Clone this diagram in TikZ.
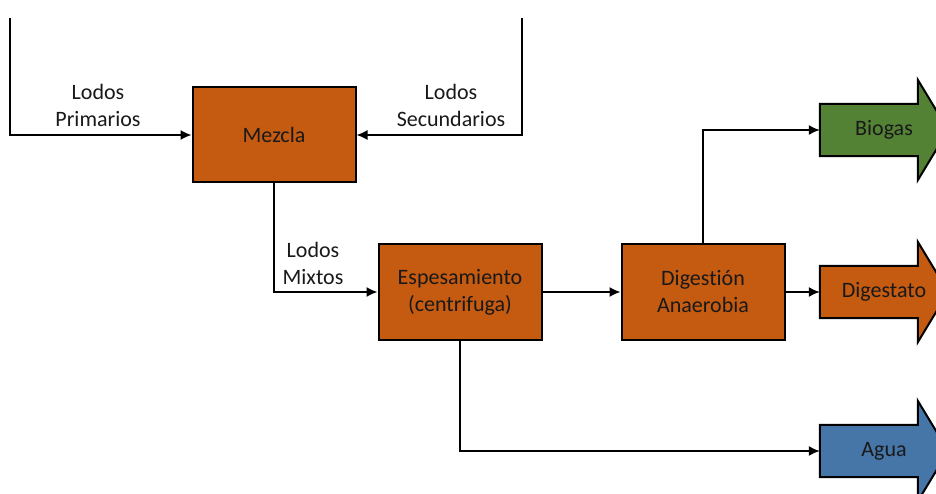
\documentclass[tikz,border=0pt]{standalone}
\usepackage{fontspec}
\setmainfont[Ligatures=NoCommon]{Carlito}
\usetikzlibrary{arrows.meta,calc,backgrounds}
\definecolor{naranja}{HTML}{C55A11}
\definecolor{verde}{HTML}{548235}
\definecolor{azul}{HTML}{4675A8}
\newcommand{\fuente}{\fontsize{22}{27}\selectfont}

\begin{document}
\begin{tikzpicture}[x=1pt, y=-1pt, >={Latex[length=11pt,width=10pt]}]
  \tikzstyle{proceso}=[rectangle, draw=black, fill=naranja, line width=2pt, minimum width=163pt, minimum height=95pt, font=\fuente, align=center, text=black!90]
  \tikzstyle{salida}=[rectangle, inner sep=0pt, minimum width=128pt, minimum height=52pt, font=\fuente, text=black!90]
  \tikzstyle{etiqueta}=[font=\fuente, align=center, text=black!90]
  \tikzstyle{flujo}=[->, line width=1.6pt]

  \useasboundingbox (0,0) rectangle (936,494);

  % Procesos
  \node[proceso] (mezcla) at (274,135) {Mezcla};
  \node[proceso] (espesamiento) at (460,292) {Espesamiento\\(centrifuga)};
  \node[proceso] (digestion) at (703,292) {Digestión\\Anaerobia};

  % Salidas
  \node[salida] (biogas) at (884,130) {Biogas};
  \node[salida] (digestato) at (884,292) {Digestato};
  \node[salida] (agua) at (884,451) {Agua};

  \begin{scope}[on background layer]
    \foreach \s/\c in {biogas/verde, digestato/naranja, agua/azul}
      \draw[line width=2pt, fill=\c, line join=miter]
        (\s.north west) -- ($(\s.north west)+(98,0)$) -- ++(0,-24) -- (\s.east)
        -- ($(\s.south west)+(98,24)$) -- ++(0,-24) -- (\s.south west) -- cycle;
  \end{scope}

  % Entradas
  \coordinate (entradaP) at (10,18);
  \coordinate (entradaS) at (522,18);

  % Conexiones
  \draw[flujo] (entradaP) |- (mezcla.west);
  \draw[flujo] (entradaS) |- (mezcla.east);
  \draw[flujo] (mezcla.south) |- (espesamiento.west);
  \draw[flujo] (espesamiento.east) -- (digestion.west);
  \draw[flujo] (espesamiento.south) |- (agua.west);
  \draw[flujo] (digestion.north) |- (biogas.west);
  \draw[flujo] (digestion.east) -- (digestato.west);

  % Etiquetas
  \node[etiqueta] (lprim) at (98,105) {Lodos\\Primarios};
  \node[etiqueta] (lsec) at (451,105) {Lodos\\Secundarios};
  \node[etiqueta] (lmix) at (313,263) {Lodos\\Mixtos};
\end{tikzpicture}
\end{document}
